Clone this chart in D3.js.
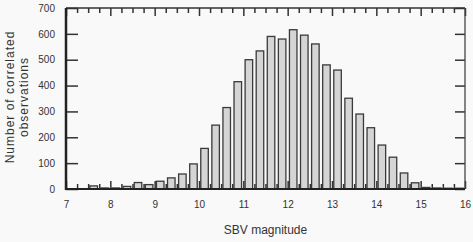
<!DOCTYPE html>
<html>
<head>
<meta charset="utf-8">
<script src="https://cdn.jsdelivr.net/npm/d3@7"></script>
<style>
  body { margin: 0; background: #f9f9f9; }
  svg text { font-family: "Liberation Sans", Arial, sans-serif; fill: #333; }
</style>
</head>
<body>
<div id="hist"></div>
<script>
// bin starts (bin width 0.25 mag)
const binStarts = [7.0, 7.25, 7.5, 7.75, 8.0, 8.25, 8.5, 8.75,
    9.0, 9.25, 9.5, 9.75, 10.0, 10.25, 10.5, 10.75,
    11.0, 11.25, 11.5, 11.75, 12.0, 12.25, 12.5, 12.75,
    13.0, 13.25, 13.5, 13.75, 14.0, 14.25, 14.5, 14.75,
    15.0, 15.25, 15.5, 15.75];
const counts = [0, 0, 12, 4, 4, 10, 25, 17,
    30, 43, 58, 97, 157, 247, 315, 415,
    500, 534, 590, 580, 616, 595, 561, 480,
    460, 351, 290, 237, 170, 123, 62, 24,
    6, 4, 3, 3];
const binWidth = 0.25;
const xTicks = [7, 8, 9, 10, 11, 12, 13, 14, 15, 16];
const yTicks = [0, 100, 200, 300, 400, 500, 600, 700];
const xTitle = "SBV magnitude";
const yTitle = ["Number of correlated", "observations"];

function createHistogram() {
    const W = 473, H = 242;
    const left = 66, right = 465, top = 8, bottom = 189;

    const svg = d3.select("#hist")
        .append("svg")
        .attr("width", W)
        .attr("height", H);

    const x = d3.scaleLinear().domain([7, 16]).range([left, right]);
    const y = d3.scaleLinear().domain([0, 700]).range([bottom, top]);

    const data = binStarts.map((s, i) => ({start: s, count: counts[i]}));

    // bars
    const barW = x(0.17) - x(0);
    svg.append("g")
        .selectAll("rect")
        .data(data.filter(d => d.count > 0))
        .enter().append("rect")
        .attr("x", d => x(d.start + binWidth / 2) - barW / 2)
        .attr("y", d => y(d.count))
        .attr("width", barW)
        .attr("height", d => bottom - y(d.count))
        .attr("fill", "#d5d5d5")
        .attr("stroke", "#3a3a3a")
        .attr("stroke-width", 1.3);

    const minor = d3.range(7, 16.001, 0.25).filter(v => Math.abs(v - Math.round(v)) > 1e-6);

    // minor ticks top/bottom
    svg.append("g")
        .attr("transform", `translate(0,${bottom})`)
        .call(d3.axisBottom(x).tickValues(minor).tickSize(-5).tickFormat(""));
    svg.append("g")
        .attr("transform", `translate(0,${top})`)
        .call(d3.axisTop(x).tickValues(minor).tickSize(-5).tickFormat(""));

    // major ticks
    const xAxis = svg.append("g")
        .attr("transform", `translate(0,${bottom})`)
        .call(d3.axisBottom(x).tickValues(xTicks).tickSize(-8).tickPadding(12).tickFormat(d3.format("d")));
    svg.append("g")
        .attr("transform", `translate(0,${top})`)
        .call(d3.axisTop(x).tickValues(xTicks).tickSize(-8).tickFormat(""));

    const yAxis = svg.append("g")
        .attr("transform", `translate(${left},0)`)
        .call(d3.axisLeft(y).tickValues(yTicks).tickSize(-12).tickPadding(11));
    svg.append("g")
        .attr("transform", `translate(${right},0)`)
        .call(d3.axisRight(y).tickValues(yTicks).tickSize(-10).tickFormat(""));

    svg.selectAll(".domain").remove();
    svg.selectAll(".tick line").attr("stroke", "#333").attr("stroke-width", 1.5);
    xAxis.selectAll("text").attr("font-size", 10).attr("fill", "#444");
    yAxis.selectAll("text").attr("font-size", 10).attr("fill", "#444");

    // frame
    svg.append("line").attr("x1", left).attr("x2", right).attr("y1", top).attr("y2", top)
        .attr("stroke", "#333").attr("stroke-width", 1.5);
    svg.append("line").attr("x1", right).attr("x2", right).attr("y1", top).attr("y2", bottom)
        .attr("stroke", "#444").attr("stroke-width", 1.3);
    svg.append("line").attr("x1", left).attr("x2", left).attr("y1", top).attr("y2", bottom + 1)
        .attr("stroke", "#222").attr("stroke-width", 2.5);
    svg.append("line").attr("x1", left).attr("x2", right).attr("y1", bottom).attr("y2", bottom)
        .attr("stroke", "#222").attr("stroke-width", 2);

    // titles
    svg.append("text")
        .attr("x", (left + right) / 2)
        .attr("y", 234)
        .attr("text-anchor", "middle")
        .attr("font-size", 12)
        .text(xTitle);

    svg.append("text")
        .attr("transform", "translate(14,97) rotate(-90)")
        .attr("text-anchor", "middle")
        .attr("font-size", 12)
        .attr("letter-spacing", 1)
        .text(yTitle[0]);
    svg.append("text")
        .attr("transform", "translate(28,97) rotate(-90)")
        .attr("text-anchor", "middle")
        .attr("font-size", 12)
        .attr("letter-spacing", 1)
        .text(yTitle[1]);
}

createHistogram();
</script>
</body>
</html>
